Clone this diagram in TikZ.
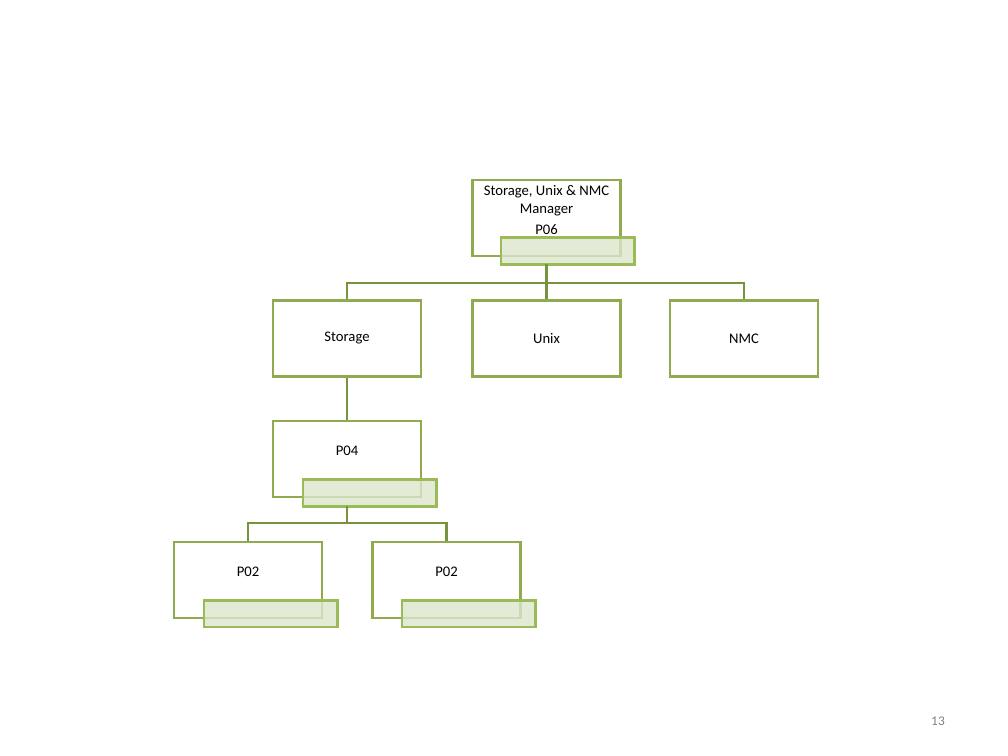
\documentclass[tikz,border=0pt]{standalone}
\usepackage{fontspec}
\setmainfont{Carlito}
\begin{document}
\begin{tikzpicture}[x=0.75pt,y=-0.75pt,
  box/.style={draw=boxc,line width=2pt,minimum width=111pt,minimum height=57pt,inner sep=0pt,font=\fontsize{11}{13}\selectfont},
  sub/.style={draw=subc,line width=2pt,fill=subf,fill opacity=0.8,minimum width=100pt,minimum height=20pt,inner sep=0pt},
  conn/.style={draw=linec,line width=2pt}]
\definecolor{boxc}{HTML}{8FAA4F}
\definecolor{subc}{HTML}{9BBB59}
\definecolor{subf}{HTML}{DCE6CC}
\definecolor{linec}{HTML}{77933C}
\useasboundingbox (0,0) rectangle (1008,756);
\node[box] (top) at (546.5,218) {};
\node[font=\fontsize{11}{13}\selectfont,align=center,anchor=north] (toptxt) at (546.5,181) {Storage, Unix \& NMC\\Manager\\[3pt]P06};
\node[sub] (tops) at (567.5,251) {};
\node[box] (st) at (347,338.5) {Storage};
\node[box] (ux) at (546.5,338.5) {Unix};
\node[box] (nm) at (744,338.5) {NMC};
\node[box] (p4) at (347,459) {\raisebox{12pt}{P04}};
\node[sub] (p4s) at (369.5,493) {};
\node[box] (pa) at (248,580) {\raisebox{12pt}{P02}};
\node[sub] (pas) at (270.5,613.5) {};
\node[box] (pb) at (446.5,580) {\raisebox{12pt}{P02}};
\node[sub] (pbs) at (468.5,613.5) {};
\coordinate (h1) at (546.5,283);
\coordinate (h2) at (347,523);
\draw[conn] (546.5,264) -- (h1);
\draw[conn] (st.north) |- (h1) -| (nm.north);
\draw[conn] (h1) -- (ux.north);
\draw[conn] (st.south) -- (p4.north);
\draw[conn] (347,506) -- (h2);
\draw[conn] (pa.north) |- (h2) -| (pb.north);
\node[text=gray,font=\fontsize{10}{12}\selectfont] (pg) at (938,721) {13};
\end{tikzpicture}
\end{document}
